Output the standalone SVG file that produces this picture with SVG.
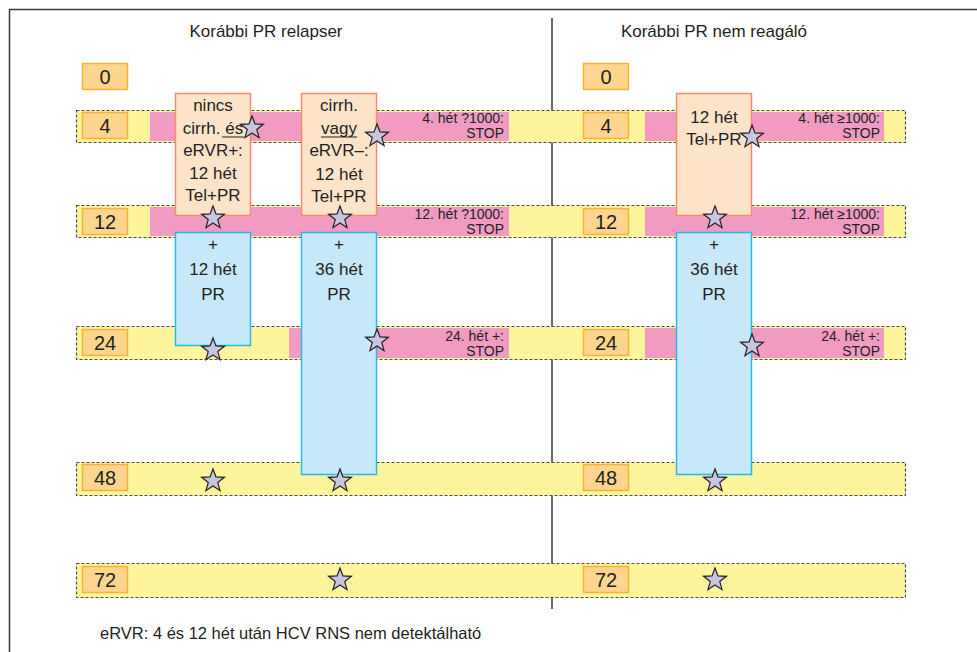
<svg xmlns="http://www.w3.org/2000/svg" width="977" height="652" viewBox="0 0 977 652">
<defs>
<style>
text{font-family:"Liberation Sans",Arial,sans-serif;fill:#231f20}
.band{fill:#fdf49b;stroke:#4d4d4d;stroke-width:1.2;stroke-dasharray:3 2}
.pink{fill:#f29bc2}
.num{fill:#fdd58f;stroke:#f9b233;stroke-width:1.5}
.numt{font-size:20px;text-anchor:middle}
.org{fill:#fde4c9;stroke:#f58a6d;stroke-width:1.5}
.blue{fill:#c7e8f8;stroke:#29b7ea;stroke-width:1.5}
.bt{font-size:17px;text-anchor:middle}
.pt{font-size:14px;text-anchor:end}
.title{font-size:17px;text-anchor:middle}
.star{fill:#c8c5e1;stroke:#231f20;stroke-width:1.2;stroke-linejoin:miter}
</style>
<path id="star" class="star" d="M0,-12 L2.94,-4.05 L11.41,-3.71 L4.76,1.55 L7.05,9.71 L0,5 L-7.05,9.71 L-4.76,1.55 L-11.41,-3.71 L-2.94,-4.05 Z"/>
</defs>
<rect width="977" height="652" fill="#fff"/>
<rect x="9.5" y="9.5" width="990" height="680" fill="none" stroke="#3a3a3a" stroke-width="1.5"/>
<g id="titles">
<text class="title" x="266" y="37">Korábbi PR relapser</text>
<text class="title" x="714" y="37">Korábbi PR nem reagáló</text>
</g>
<line id="divider" x1="552" y1="18" x2="552" y2="609" stroke="#3a3a3a" stroke-width="1.5"/>
<g id="bands">
<rect class="band" x="76.5" y="110.5" width="829" height="32"/>
<rect class="band" x="76.5" y="205.5" width="829" height="32"/>
<rect class="band" x="76.5" y="326.5" width="829" height="33"/>
<rect class="band" x="76.5" y="462.5" width="829" height="33"/>
<rect class="band" x="76.5" y="563.5" width="829" height="34"/>
</g>
<g id="pink-bands">
<rect class="pink" x="150" y="112" width="359" height="29"/>
<rect class="pink" x="150" y="207" width="359" height="29"/>
<rect class="pink" x="289" y="328" width="220" height="30"/>
<rect class="pink" x="645" y="112" width="239" height="29"/>
<rect class="pink" x="645" y="207" width="239" height="29"/>
<rect class="pink" x="645" y="328" width="239" height="30"/>
</g>
<g id="week-labels">
<g id="w0-l"><rect class="num" x="82.5" y="63.5" width="45" height="26"/><text class="numt" x="105" y="84">0</text></g>
<g id="w4-l"><rect class="num" x="82.5" y="112.5" width="45" height="26"/><text class="numt" x="105" y="133">4</text></g>
<g id="w12-l"><rect class="num" x="82.5" y="208.5" width="45" height="26"/><text class="numt" x="105" y="229">12</text></g>
<g id="w24-l"><rect class="num" x="82.5" y="329.5" width="45" height="26"/><text class="numt" x="105" y="350">24</text></g>
<g id="w48-l"><rect class="num" x="82.5" y="464.5" width="45" height="26"/><text class="numt" x="105" y="485">48</text></g>
<g id="w72-l"><rect class="num" x="82.5" y="566.5" width="45" height="26"/><text class="numt" x="105" y="587">72</text></g>
<g id="w0-r"><rect class="num" x="583.5" y="63.5" width="45" height="26"/><text class="numt" x="606" y="84">0</text></g>
<g id="w4-r"><rect class="num" x="583.5" y="112.5" width="45" height="26"/><text class="numt" x="606" y="133">4</text></g>
<g id="w12-r"><rect class="num" x="583.5" y="208.5" width="45" height="26"/><text class="numt" x="606" y="229">12</text></g>
<g id="w24-r"><rect class="num" x="583.5" y="329.5" width="45" height="26"/><text class="numt" x="606" y="350">24</text></g>
<g id="w48-r"><rect class="num" x="583.5" y="464.5" width="45" height="26"/><text class="numt" x="606" y="485">48</text></g>
<g id="w72-r"><rect class="num" x="583.5" y="566.5" width="45" height="26"/><text class="numt" x="606" y="587">72</text></g>
</g>
<g id="stop-labels">
<text class="pt" x="504" y="123">4. hét ?1000:</text><text class="pt" x="504" y="138">STOP</text>
<text class="pt" x="504" y="219">12. hét ?1000:</text><text class="pt" x="504" y="234">STOP</text>
<text class="pt" x="504" y="341">24. hét +:</text><text class="pt" x="504" y="356">STOP</text>
<text class="pt" x="880" y="123">4. hét ≥1000:</text><text class="pt" x="880" y="138">STOP</text>
<text class="pt" x="880" y="219">12. hét ≥1000:</text><text class="pt" x="880" y="234">STOP</text>
<text class="pt" x="880" y="341">24. hét +:</text><text class="pt" x="880" y="356">STOP</text>
</g>
<g id="tel-l1">
<rect class="org" x="175.5" y="93.5" width="75" height="122"/>
<text class="bt" x="213" y="111">nincs</text>
<text class="bt" x="213" y="134">cirrh. és</text>
<line x1="222" y1="137" x2="244" y2="137" stroke="#231f20" stroke-width="1"/>
<text class="bt" x="213" y="156">eRVR+:</text>
<text class="bt" x="213" y="179">12 hét</text>
<text class="bt" x="213" y="201">Tel+PR</text>
</g>
<g id="tel-l2">
<rect class="org" x="301.5" y="93.5" width="75" height="122"/>
<text class="bt" x="339" y="111">cirrh.</text>
<text class="bt" x="339" y="134">vagy</text>
<line x1="321" y1="137" x2="357" y2="137" stroke="#231f20" stroke-width="1"/>
<text class="bt" x="339" y="156">eRVR–:</text>
<text class="bt" x="339" y="180">12 hét</text>
<text class="bt" x="339" y="202">Tel+PR</text>
</g>
<g id="tel-r">
<rect class="org" x="676.5" y="93.5" width="75" height="122"/>
<text class="bt" x="714" y="123">12 hét</text>
<text class="bt" x="714" y="145">Tel+PR</text>
</g>
<g id="pr-l1">
<rect class="blue" x="175.5" y="232.5" width="75" height="113"/>
<text class="bt" x="213" y="250">+</text>
<text class="bt" x="213" y="275">12 hét</text>
<text class="bt" x="213" y="300">PR</text>
</g>
<g id="pr-l2">
<rect class="blue" x="301.5" y="232.5" width="75" height="242"/>
<text class="bt" x="339" y="250">+</text>
<text class="bt" x="339" y="275">36 hét</text>
<text class="bt" x="339" y="300">PR</text>
</g>
<g id="pr-r">
<rect class="blue" x="676.5" y="232.5" width="75" height="242"/>
<text class="bt" x="714" y="250">+</text>
<text class="bt" x="714" y="275">36 hét</text>
<text class="bt" x="714" y="300">PR</text>
</g>
<g id="stars">
<use href="#star" x="252" y="128"/>
<use href="#star" x="377" y="136"/>
<use href="#star" x="752" y="137"/>
<use href="#star" x="213" y="218"/>
<use href="#star" x="340" y="218"/>
<use href="#star" x="715" y="218"/>
<use href="#star" x="213" y="350"/>
<use href="#star" x="377" y="341"/>
<use href="#star" x="752" y="346"/>
<use href="#star" x="213" y="481"/>
<use href="#star" x="340" y="481"/>
<use href="#star" x="715" y="481"/>
<use href="#star" x="340" y="580"/>
<use href="#star" x="715" y="580"/>
</g>
<text id="footnote" x="100" y="639" style="font-size:16.5px">eRVR: 4 és 12 hét után HCV RNS nem detektálható</text>
</svg>
